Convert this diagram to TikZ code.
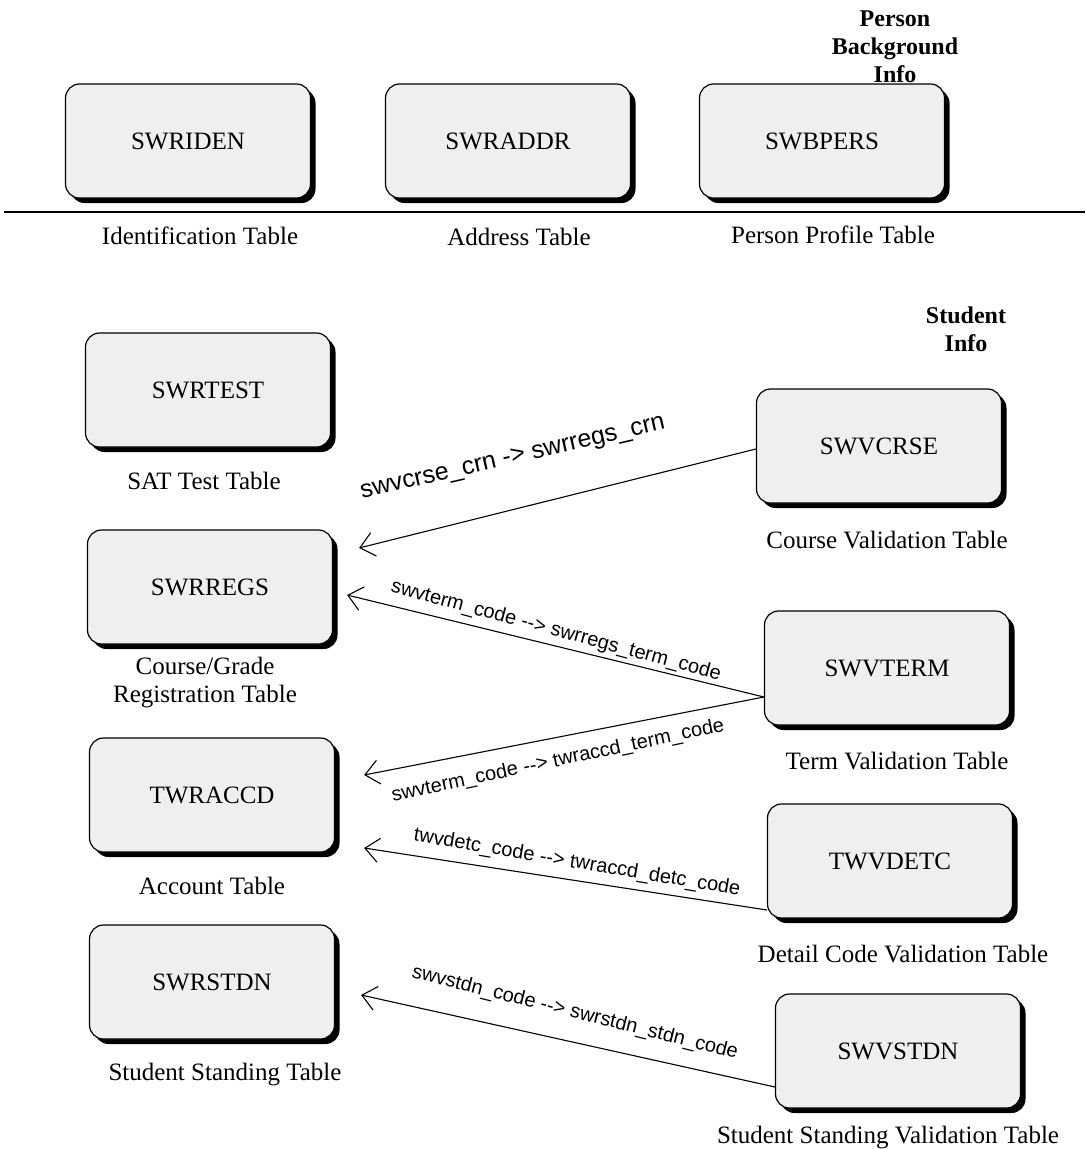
\documentclass[tikz,border=0pt]{standalone}
\usepackage{fontspec}
\setmainfont{Liberation Serif}
\newfontfamily\lsans{Liberation Sans}
\usetikzlibrary{shadows,arrows.meta,calc}
\definecolor{boxfill}{RGB}{239,239,239}
\tikzset{
  tbl/.style={draw=black, line width=1.2pt, fill=boxfill, rounded corners=14pt,
    minimum width=245pt, minimum height=114pt, inner sep=0pt,
    font=\fontsize{25}{28}\selectfont,
    drop shadow={shadow xshift=5pt, shadow yshift=-5pt, fill=black, opacity=1}},
  tcap/.style={font=\fontsize{25}{28}\selectfont, align=center, inner sep=0pt},
  head/.style={font=\bfseries\fontsize{24}{28}\selectfont, align=center, inner sep=0pt},
  rel/.style={line width=1.1pt, -{Straight Barb[length=14pt,width=24pt,line width=1.1pt]}},
  rlab/.style={font=\lsans\fontsize{20}{22}\selectfont, inner sep=0pt},
}
\begin{document}
\begin{tikzpicture}[x=1pt,y=-1pt]
\useasboundingbox (0,0) rectangle (1085,1149);
% top row
\node[tbl] (swriden) at (188,141) {SWRIDEN};
\node[tbl] (swraddr) at (508,141) {SWRADDR};
\node[tbl] (swbpers) at (822,141) {SWBPERS};
\node[head] (pbi) at (895,47) {Person\\Background\\Info};
\coordinate (hl) at (4,212);
\coordinate (hr) at (1085,212);
\draw[line width=1.2pt] (hl) -- (hr);
\node[tcap] (lid) at (200,236) {Identification Table};
\node[tcap] (lad) at (519,237) {Address Table};
\node[tcap] (lpp) at (833,235) {Person Profile Table};
% student section
\node[head] (si) at (966,329) {Student\\Info};
\node[tbl] (swrtest) at (208,390) {SWRTEST};
\node[tcap] (lsat) at (204,481) {SAT Test Table};
\node[tbl] (swrregs) at (210,587) {SWRREGS};
\node[tcap] (lreg) at (205,683) {Course/Grade\\Registration Table};
\node[tbl] (twraccd) at (212,795) {TWRACCD};
\node[tcap] (lacc) at (212,886) {Account Table};
\node[tbl] (swrstdn) at (212,982) {SWRSTDN};
\node[tcap] (lstd) at (225,1075) {Student Standing Table};
\node[tbl] (swvcrse) at (879,446) {SWVCRSE};
\node[tcap] (lcrs) at (887,540) {Course Validation Table};
\node[tbl] (swvterm) at (887,668) {SWVTERM};
\node[tcap] (lterm) at (897,761) {Term Validation Table};
\node[tbl] (twvdetc) at (890,861) {TWVDETC};
\node[tcap] (ldet) at (903,954) {Detail Code Validation Table};
\node[tbl] (swvstdn) at (898,1051) {SWVSTDN};
\node[tcap] (lsvs) at (888,1138) {Student Standing Validation Table};
% relations
\draw[rel] ($(swvcrse.west)+(0,3)$) -- ($(swrregs.east)+(26,-39)$);
\draw[rel] ($(swvterm.west)+(0,29)$) -- ($(swrregs.east)+(14,8)$);
\draw[rel] ($(swvterm.west)+(0,29)$) -- ($(twraccd.east)+(29,-20)$);
\draw[rel] ($(twvdetc.west)+(0,49)$) -- ($(twraccd.east)+(29,53)$);
\draw[rel] ($(swvstdn.west)+(0,36)$) -- ($(swrstdn.east)+(26,13)$);
\node[rlab, font=\lsans\fontsize{25}{27}\selectfont, rotate=13] (l1) at (513,459) {swvcrse\_crn -> swrregs\_crn};
\node[rlab, rotate=-15] (l2) at (556,631) {swvterm\_code --> swrregs\_term\_code};
\node[rlab, rotate=12] (l3) at (558,761) {swvterm\_code --> twraccd\_term\_code};
\node[rlab, rotate=-9.5] (l4) at (577,863) {twvdetc\_code --> twraccd\_detc\_code};
\node[rlab, rotate=-14] (l5) at (575,1013) {swvstdn\_code --> swrstdn\_stdn\_code};
\end{tikzpicture}
\end{document}
